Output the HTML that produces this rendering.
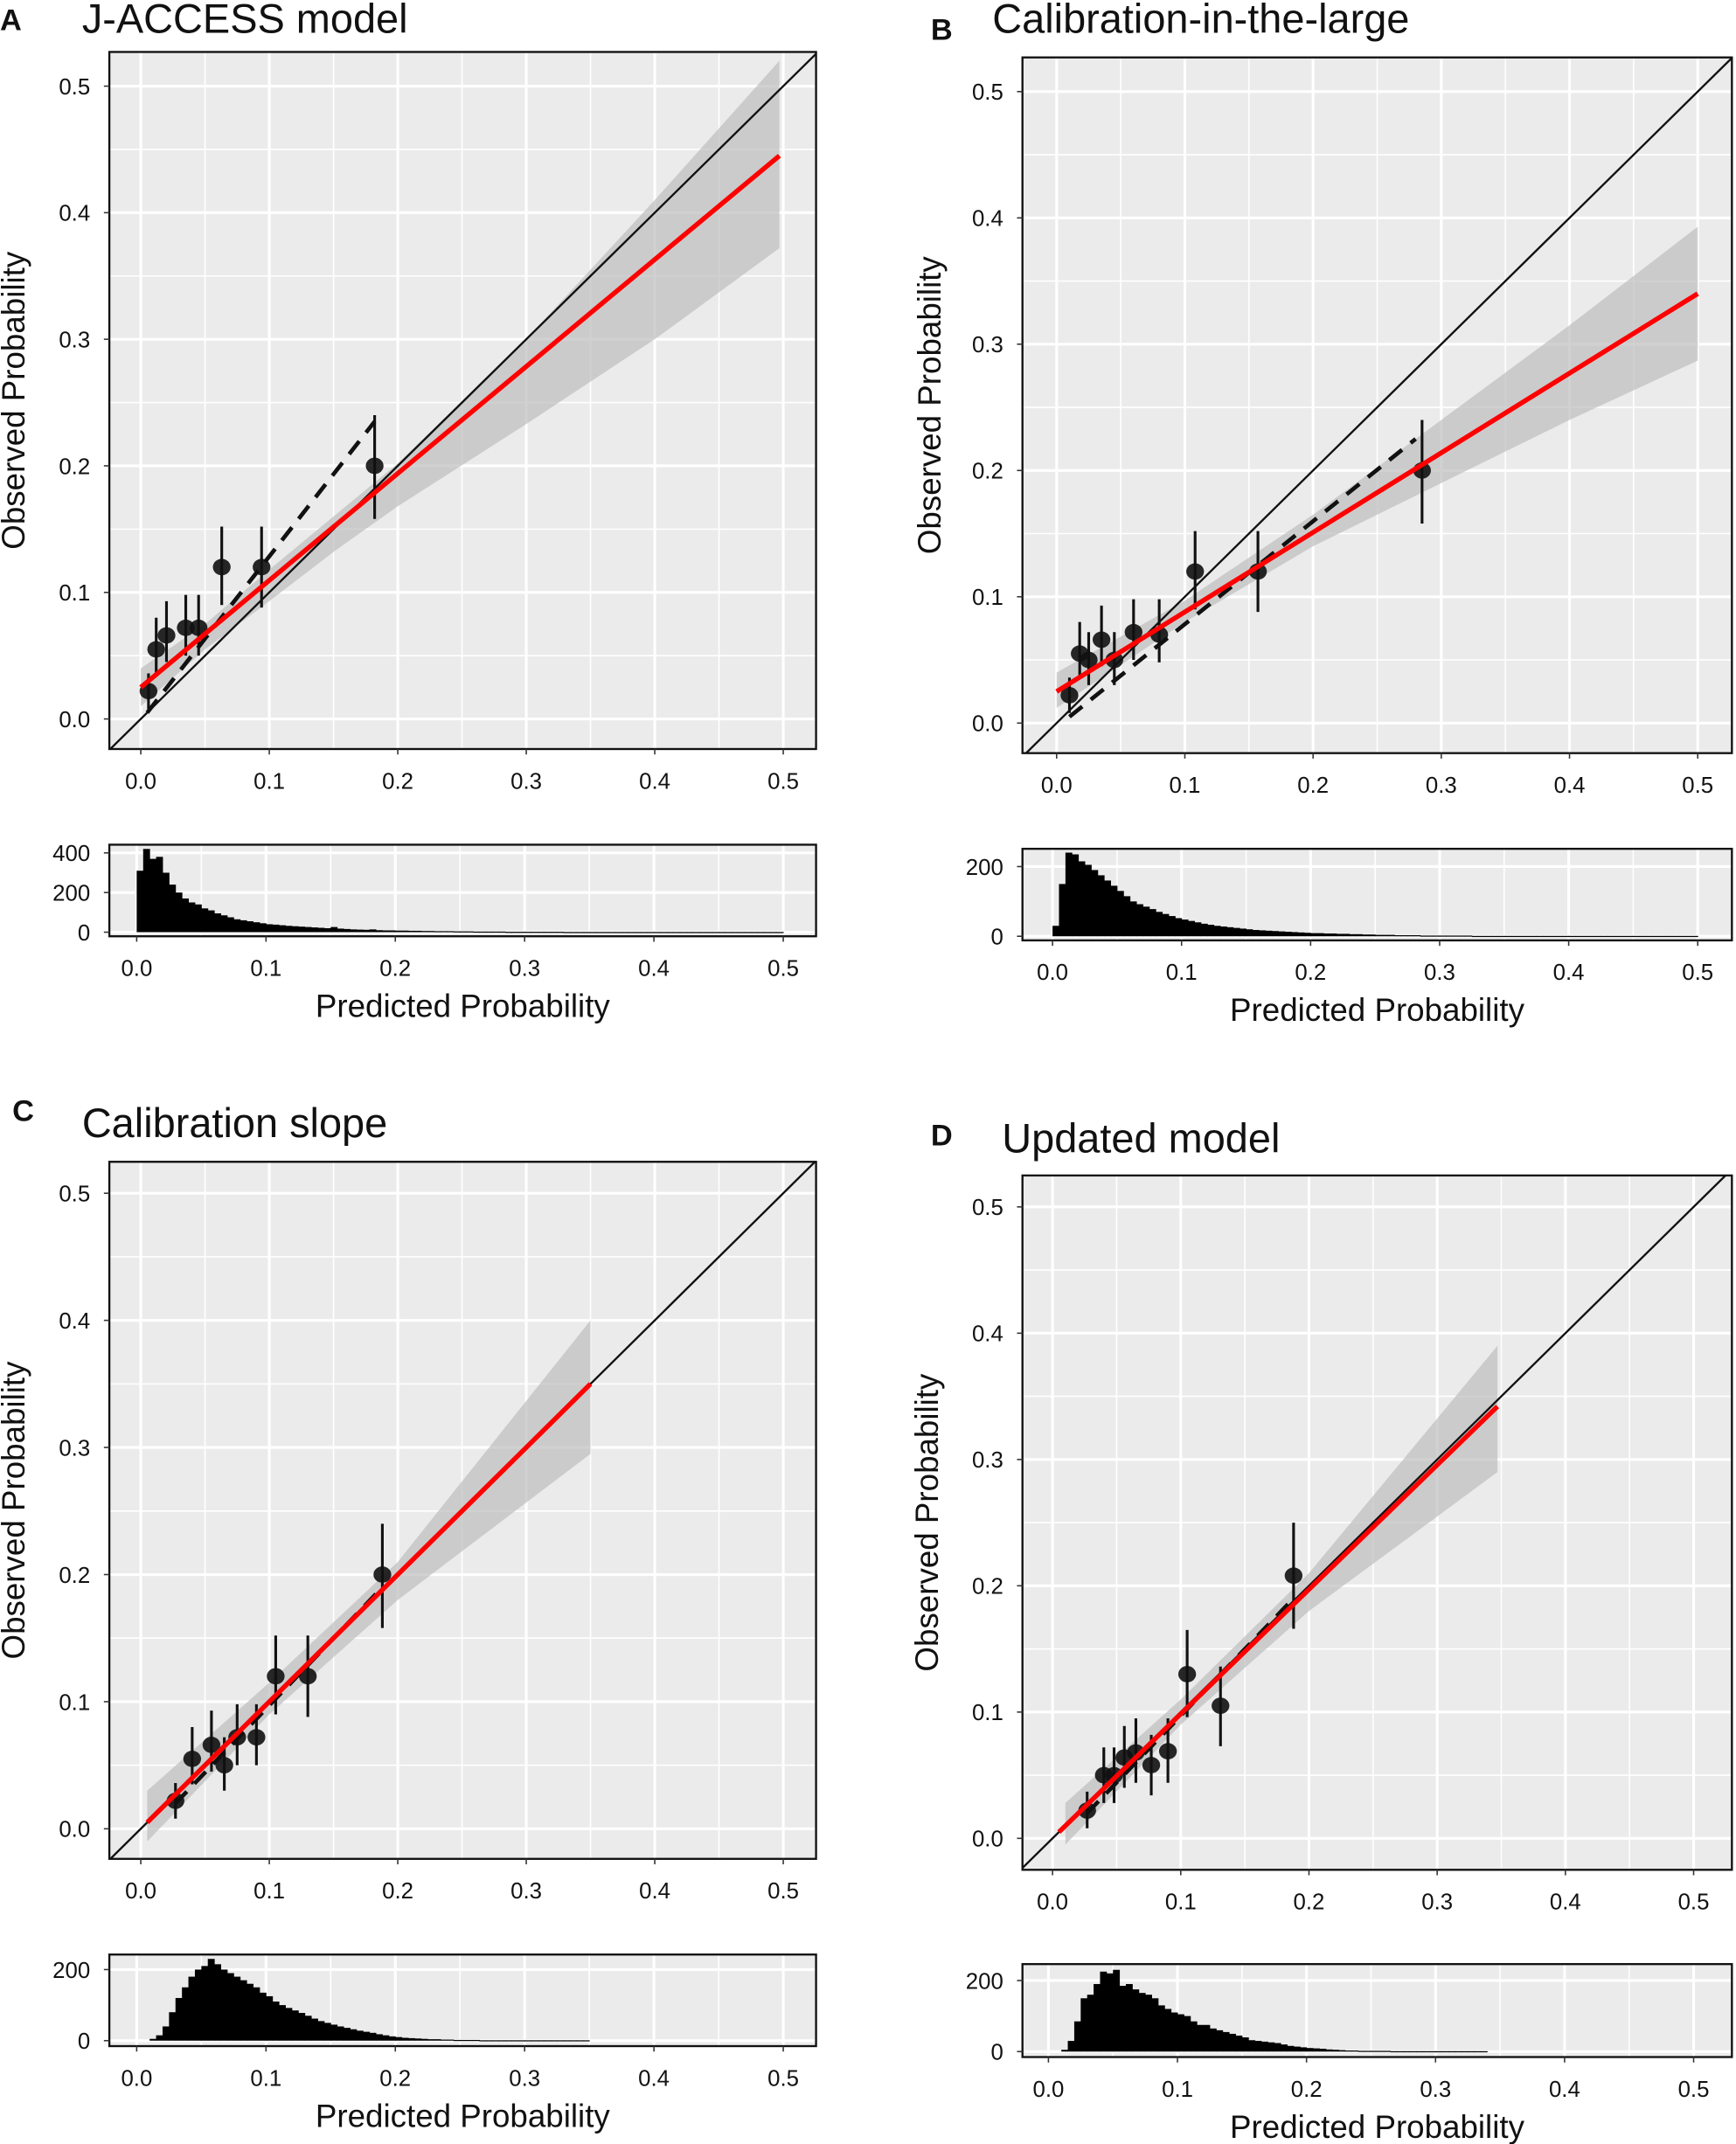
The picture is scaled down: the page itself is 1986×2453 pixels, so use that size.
<!DOCTYPE html>
<html><head><meta charset="utf-8"><style>
html,body{margin:0;padding:0;background:#fff;}
svg{display:block;font-family:"Liberation Sans",Arial,sans-serif;}
</style></head><body>
<svg id="fig" width="1986" height="2453" viewBox="0 0 1270 1568.6" xmlns="http://www.w3.org/2000/svg"></svg>
<script>
// ---------- Panel A data ----------
const aX=[0.006,0.012,0.02,0.035,0.045,0.063,0.094,0.182];
const aY=[0.022,0.055,0.066,0.072,0.072,0.12,0.12,0.2];
const aLo=[0.008,0.035,0.045,0.05,0.05,0.09,0.088,0.158];
const aHi=[0.036,0.08,0.093,0.098,0.098,0.152,0.152,0.24];
const aRed=[[0.0,0.025],[0.497,0.445]];
const aDash=[[0.005,0.005],[0.182,0.235]];
const aBandX=[0.0,0.05,0.1,0.15,0.2,0.3,0.4,0.497];
const aBandLo=[0.010,0.055,0.093,0.132,0.168,0.233,0.300,0.372];
const aBandHi=[0.040,0.075,0.118,0.160,0.202,0.300,0.410,0.520];
const aHist=[310,420,370,380,300,240,200,170,150,140,120,110,95,85,75,65,60,55,50,45,40,38,35,32,30,28,26,24,22,20,26,18,16,14,13,12,14,10,9,9,8,8,7,7,6,6,5,5,5,4,4,4,3,3,3,3,3,2,2,2,2,2,2,2,2,2,1,1,1,1,1,1,1,1,1,1,1,1,1,1,1,1,1,1,1,1,1,1,1,1,1,1,1,1,1,1,1,1,1,1];
const aHistTicks=[0,200,400];
// ---------- Panel B data ----------
const bX=[0.01,0.018,0.025,0.035,0.045,0.06,0.08,0.108,0.157,0.285];
const bY=[0.022,0.055,0.05,0.066,0.05,0.072,0.07,0.12,0.12,0.2];
const bLo=[0.008,0.035,0.03,0.045,0.03,0.05,0.048,0.09,0.088,0.158];
const bHi=[0.036,0.08,0.072,0.093,0.072,0.098,0.098,0.152,0.152,0.24];
const bRed=[[0.0,0.025],[0.5,0.34]];
const bDash=[[0.01,0.005],[0.28,0.225]];
const bBandX=[0.0,0.1,0.2,0.3,0.4,0.5];
const bBandLo=[0.012,0.080,0.140,0.190,0.240,0.287];
const bBandHi=[0.040,0.097,0.165,0.240,0.315,0.393];
const bHist=[30,150,240,235,215,205,190,175,160,145,130,115,100,92,85,78,70,64,58,52,48,44,40,36,33,30,28,26,24,22,20,18,17,16,15,14,13,12,11,10,9,9,8,8,7,7,6,6,5,5,4,4,4,3,3,3,3,2,2,2,2,2,2,2,2,1,1,1,1,1,1,1,1,1,1,1,1,1,1,1,1,1,1,1,1,1,1,1,1,1,1,1,1,1,1,1,1,1,1,1];
const bHistTicks=[0,200];
// ---------- Panel C data ----------
const cX=[0.027,0.04,0.055,0.065,0.075,0.09,0.105,0.13,0.188];
const cY=[0.022,0.055,0.066,0.05,0.072,0.072,0.12,0.12,0.2];
const cLo=[0.008,0.035,0.045,0.03,0.05,0.05,0.09,0.088,0.158];
const cHi=[0.036,0.08,0.093,0.072,0.098,0.098,0.152,0.152,0.24];
const cRed=[[0.005,0.005],[0.35,0.35]];
const cDash=[[0.027,0.02],[0.188,0.19]];
const cBandX=[0.005,0.1,0.2,0.35];
const cBandLo=[-0.010,0.090,0.180,0.295];
const cBandHi=[0.030,0.115,0.210,0.400];
const cHist=[0,0,5,15,40,80,120,150,180,200,210,230,215,200,190,180,170,160,150,135,125,110,100,92,85,78,70,62,55,50,45,40,36,32,28,25,22,18,15,12,10,8,7,6,5,4,4,3,3,2,2,2,2,1,1,1,1,1,1,1,1,1,1,1,1,1,1,1,1,1,0,0,0,0,0,0,0,0,0,0,0,0,0,0,0,0,0,0,0,0,0,0,0,0,0,0,0,0,0,0];
const cHistTicks=[0,200];
// ---------- Panel D data ----------
const dX=[0.027,0.04,0.048,0.056,0.065,0.077,0.09,0.105,0.131,0.188];
const dY=[0.022,0.05,0.05,0.064,0.068,0.058,0.069,0.13,0.105,0.208];
const dLo=[0.008,0.028,0.028,0.04,0.044,0.034,0.044,0.096,0.073,0.166];
const dHi=[0.037,0.072,0.072,0.089,0.095,0.082,0.095,0.165,0.136,0.25];
const dRed=[[0.005,0.005],[0.347,0.342]];
const dDash=[[0.027,0.02],[0.188,0.19]];
const dBandX=[0.01,0.1,0.2,0.347];
const dBandLo=[-0.005,0.090,0.180,0.290];
const dBandHi=[0.028,0.110,0.210,0.390];
const dHist=[0,0,5,30,85,150,160,190,225,220,230,185,190,175,165,160,150,130,120,110,105,100,85,75,75,65,60,55,50,45,40,32,30,28,26,24,20,16,14,12,10,9,8,6,5,4,3,3,2,2,2,2,2,1,1,1,1,1,1,1,1,1,1,1,1,1,1,1,0,0,0,0,0,0,0,0,0,0,0,0,0,0,0,0,0,0,0,0,0,0,0,0,0,0,0,0,0,0,0,0];
const dHistTicks=[0,200];
const xTicks=["0.0","0.1","0.2","0.3","0.4","0.5"];
const yTicks=["0.0","0.1","0.2","0.3","0.4","0.5"];

const NS="http://www.w3.org/2000/svg";
const svg=document.getElementById('fig');
function mk(tag,attrs,parent){const e=document.createElementNS(NS,tag);for(const k in attrs)e.setAttribute(k,attrs[k]);(parent||svg).appendChild(e);return e;}
function txt(s,x,y,size,anchor,parent,extra){const t=mk('text',Object.assign({x:x,y:y,'font-size':size,'text-anchor':anchor||'start',fill:'#111'},extra||{}),parent);t.textContent=s;return t;}

function panel(letter,title,L,P,H,data){
  const g=mk('g',{});
  
  
  const sx=v=>P.x0+(v)*(P.x5-P.x0)/0.5;
  const sy=v=>P.y0+(v)*(P.y5-P.y0)/0.5;
  const lt=txt(letter,L.lx,L.ly,22,'start',g,{'font-weight':'bold'});
  
  
  const tt=txt(title,L.tx,L.ty,30,'start',g);
  
  
  const clipId='clip'+letter;
  const cp=mk('clipPath',{id:clipId},g);mk('rect',{x:P.bx0,y:P.by0,width:P.bx1-P.bx0,height:P.by1-P.by0},cp);
  const bg=mk('rect',{x:P.bx0,y:P.by0,width:P.bx1-P.bx0,height:P.by1-P.by0,fill:'#ebebeb'},g);
  
  
  for(let i=0;i<=10;i++){const v=i*0.05;const w=i%2?1:2;
    mk('line',{x1:sx(v),x2:sx(v),y1:P.by0,y2:P.by1,stroke:'#fff','stroke-width':w},g);
    mk('line',{y1:sy(v),y2:sy(v),x1:P.bx0,x2:P.bx1,stroke:'#fff','stroke-width':w},g);}
  const pg=mk('g',{'clip-path':'url(#'+clipId+')'},g);
  let pts=data.bx.map((x,i)=>sx(x)+','+sy(data.bhi[i]));
  pts=pts.concat(data.bx.slice().reverse().map((x,i)=>sx(x)+','+sy(data.blo[data.bx.length-1-i])));
  const band=mk('polygon',{points:pts.join(' '),fill:'#bdbdbd','fill-opacity':0.7},pg);
  
  
  const diag=mk('line',{x1:sx(-0.1),y1:sy(-0.1),x2:sx(0.6),y2:sy(0.6),stroke:'#111','stroke-width':1.5},pg);
  
  
  const dash=mk('line',{x1:sx(data.dash[0][0]),y1:sy(data.dash[0][1]),x2:sx(data.dash[1][0]),y2:sy(data.dash[1][1]),stroke:'#111','stroke-width':3,'stroke-dasharray':'12,8'},pg);
  
  
  for(let i=0;i<data.x.length;i++){
    const eb=mk('line',{x1:sx(data.x[i]),x2:sx(data.x[i]),y1:sy(data.lo[i]),y2:sy(data.hi[i]),stroke:'#111','stroke-width':2},pg);
    
    
    const c=mk('ellipse',{cx:sx(data.x[i]),cy:sy(data.y[i]),rx:6.5,ry:6,fill:'#111','fill-opacity':0.9},pg);
    
    
  }
  const red=mk('line',{x1:sx(data.red[0][0]),y1:sy(data.red[0][1]),x2:sx(data.red[1][0]),y2:sy(data.red[1][1]),stroke:'#f00','stroke-width':3.5},pg);
  
  
  mk('rect',{x:P.bx0,y:P.by0,width:P.bx1-P.bx0,height:P.by1-P.by0,fill:'none',stroke:'#111','stroke-width':1.5},g);
  xTicks.forEach((s,i)=>{const v=i*0.1;mk('line',{x1:sx(v),x2:sx(v),y1:P.by1,y2:P.by1+4,stroke:'#333'},g);
    const t=txt(s,sx(v),P.by1+29,16.5,'middle',g);});
  yTicks.forEach((s,i)=>{const v=i*0.1;mk('line',{x1:P.bx0-4,x2:P.bx0,y1:sy(v),y2:sy(v),stroke:'#333'},g);
    const t=txt(s,P.bx0-14,sy(v)+6,16.5,'end',g);});
  const yl=txt('Observed Probability',0,0,23.5,'middle',g,{transform:'translate('+L.ylx+','+((P.by0+P.by1)/2)+') rotate(-90)'});
  
  
  const hx=v=>H.x0+v*(H.x5-H.x0)/0.5;
  const hmax=H.tmax;const hy=v=>H.yz+(v)*(H.yt-H.yz)/hmax;
  const hb=mk('rect',{x:P.bx0,y:H.by0,width:P.bx1-P.bx0,height:H.by1-H.by0,fill:'#ebebeb'},g);
  
  
  for(let i=0;i<=10;i++){const v=i*0.05;mk('line',{x1:hx(v),x2:hx(v),y1:H.by0,y2:H.by1,stroke:'#fff','stroke-width':i%2?1:2},g);}
  data.htick.forEach(v=>{mk('line',{x1:P.bx0,x2:P.bx1,y1:hy(v),y2:hy(v),stroke:'#fff','stroke-width':2},g);});
  for(let k=0;k<data.hist.length;k++){const v=data.hist[k];if(v<=0)continue;
    const r=mk('rect',{x:hx(k*0.005),y:hy(v),width:hx(0.005)-hx(0)+0.3,height:Math.max(hy(0)-hy(v),0.8),fill:'#000'},g);
    
    }
  mk('rect',{x:P.bx0,y:H.by0,width:P.bx1-P.bx0,height:H.by1-H.by0,fill:'none',stroke:'#111','stroke-width':1.5},g);
  data.htick.forEach(v=>{mk('line',{x1:P.bx0-4,x2:P.bx0,y1:hy(v),y2:hy(v),stroke:'#333'},g);
    const t=txt(String(v),P.bx0-14,hy(v)+6,16.5,'end',g);});
  xTicks.forEach((s,i)=>{const v=i*0.1;mk('line',{x1:hx(v),x2:hx(v),y1:H.by1,y2:H.by1+4,stroke:'#333'},g);
    const t=txt(s,hx(v),H.by1+29,16.5,'middle',g);});
  const xl=txt('Predicted Probability',(P.bx0+P.bx1)/2,H.by1+59,23.5,'middle',g);
  
  
}

panel('A','J-ACCESS model',{lx:0,ly:22,tx:60,ty:24,ylx:18},
 {bx0:80,bx1:597,by0:38,by1:548,x0:103,x5:573,y0:526,y5:63},
 {by0:618,by1:685,x0:100,x5:573,yz:682,yt:624,tmax:400},
 {x:aX,y:aY,lo:aLo,hi:aHi,red:aRed,dash:aDash,bx:aBandX,blo:aBandLo,bhi:aBandHi,hist:aHist,htick:aHistTicks});
panel('B','Calibration-in-the-large',{lx:681,ly:29,tx:726,ty:24,ylx:688},
 {bx0:748,bx1:1267,by0:42,by1:551,x0:773,x5:1242,y0:529,y5:67},
 {by0:621,by1:688,x0:770,x5:1242,yz:685,yt:634,tmax:200},
 {x:bX,y:bY,lo:bLo,hi:bHi,red:bRed,dash:bDash,bx:bBandX,blo:bBandLo,bhi:bBandHi,hist:bHist,htick:bHistTicks});
panel('C','Calibration slope',{lx:9,ly:820,tx:60,ty:832,ylx:18},
 {bx0:80,bx1:597,by0:850,by1:1360,x0:103,x5:573,y0:1338,y5:873},
 {by0:1430,by1:1497,x0:100,x5:573,yz:1493,yt:1441,tmax:200},
 {x:cX,y:cY,lo:cLo,hi:cHi,red:cRed,dash:cDash,bx:cBandX,blo:cBandLo,bhi:cBandHi,hist:cHist,htick:cHistTicks});
panel('D','Updated model',{lx:681,ly:838,tx:733,ty:843,ylx:686},
 {bx0:748,bx1:1267,by0:860,by1:1368,x0:770,x5:1239,y0:1345,y5:883},
 {by0:1437,by1:1505,x0:767,x5:1239,yz:1501,yt:1449,tmax:200},
 {x:dX,y:dY,lo:dLo,hi:dHi,red:dRed,dash:dDash,bx:dBandX,blo:dBandLo,bhi:dBandHi,hist:dHist,htick:dHistTicks});
</script>
</body></html>
